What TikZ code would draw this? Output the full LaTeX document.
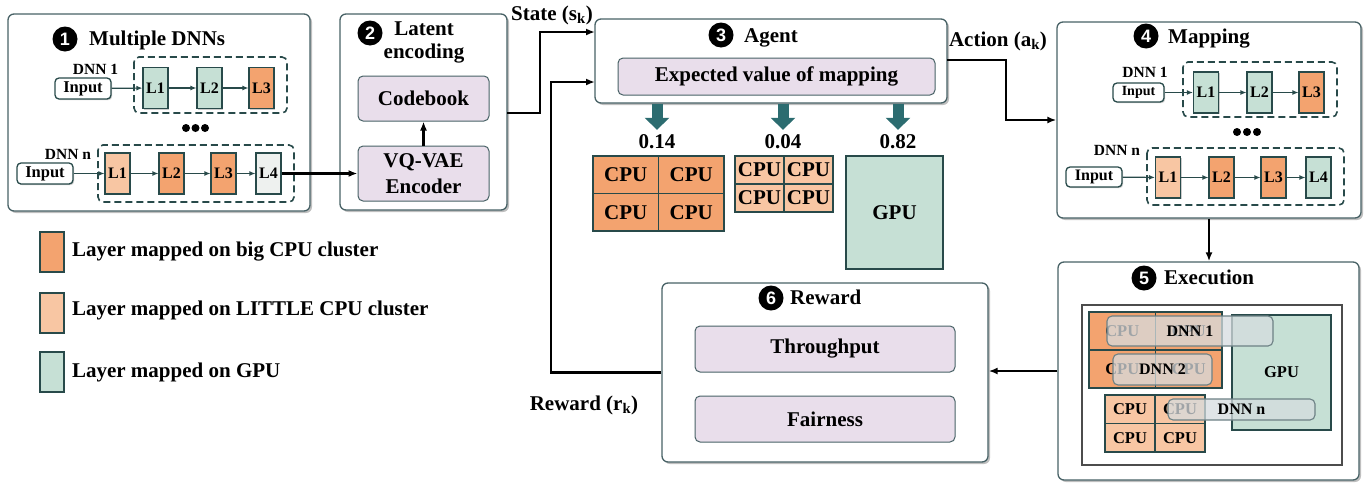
\documentclass[tikz,border=0pt]{standalone}
\usepackage{fontspec}
\setmainfont{Liberation Serif}
\setsansfont{Liberation Sans}
\usepackage{tikz}
\usetikzlibrary{arrows.meta,shadows,positioning}
\definecolor{bigcpu}{RGB}{243,163,111}
\definecolor{littlecpu}{RGB}{248,198,163}
\definecolor{gpucol}{RGB}{198,224,213}
\definecolor{idle}{RGB}{238,241,239}
\definecolor{lilac}{RGB}{233,222,235}
\definecolor{edge}{RGB}{40,74,74}
\definecolor{frame}{RGB}{72,98,102}
\definecolor{tealarrow}{RGB}{44,108,112}
\definecolor{jobgray}{RGB}{214,220,223}
\newcommand{\fsz}[1]{\fontsize{#1}{#1}\selectfont}

\begin{document}
\begin{tikzpicture}[x=1pt, y=-1pt,
  every node/.style={font=\bfseries\fsz{21}},
  panel/.style={draw=frame, fill=white, rounded corners=6pt, line width=1.3pt, inner sep=0pt,
    drop shadow={shadow xshift=2pt, shadow yshift=-2pt, opacity=0.5}},
  num/.style={circle, fill=black, text=white, inner sep=0pt, minimum size=25pt, font=\sffamily\bfseries\fsz{18}},
  title/.style={anchor=base west, inner sep=0pt},
  inner/.style={draw=frame, fill=lilac, rounded corners=5pt, line width=1pt, inner sep=0pt, align=center},
  layer/.style={draw=edge, line width=1.1pt, minimum width=25pt, minimum height=41pt, inner sep=0pt, font=\bfseries\fsz{16},
    drop shadow={shadow xshift=1.2pt, shadow yshift=-1.2pt, opacity=0.4}},
  bigL/.style={layer, fill=bigcpu},
  littleL/.style={layer, fill=littlecpu},
  gpuL/.style={layer, fill=gpucol},
  idleL/.style={layer, fill=idle},
  inbox/.style={draw=edge, fill=white, rounded corners=4pt, line width=1.3pt, minimum width=56pt, minimum height=21pt,
    inner sep=0pt, font=\bfseries\fsz{16.5}, drop shadow={shadow xshift=1.2pt, shadow yshift=-1.2pt, opacity=0.4}},
  lbl/.style={anchor=base, inner sep=0pt, font=\bfseries\fsz{15.5}},
  group/.style={draw=edge, dash pattern=on 7pt off 4pt, line width=1.6pt, rounded corners=5pt},
  link/.style={-{Latex[length=6pt,width=5pt]}, draw=edge, line width=1.2pt},
  flow/.style={-{Latex[length=9pt,width=7pt]}, line width=2.2pt, black},
  fat/.style={-{Triangle[length=12pt,width=24pt]}, line width=11pt, tealarrow},
  cell/.style={draw=edge, line width=1.1pt, inner sep=0pt, font=\bfseries\fsz{21},
    drop shadow={shadow xshift=1.2pt, shadow yshift=-1.2pt, opacity=0.4}},
  job/.style={draw=frame!80, fill=jobgray, fill opacity=0.75, text opacity=1, rounded corners=5pt, line width=1.1pt,
    inner sep=0pt, font=\bfseries\fsz{16}}]
  \useasboundingbox (0,0) rectangle (1370,485);

  % Panels
  \node[panel, minimum width=302pt, minimum height=197pt] (dnns) at (159,112.5) {};
  \node[panel, minimum width=167pt, minimum height=196pt] (latent) at (423.5,112) {};
  \node[panel, minimum width=352pt, minimum height=84pt] (agent) at (771,61) {};
  \node[panel, minimum width=304pt, minimum height=196pt] (map) at (1209,120) {};
  \node[panel, minimum width=301pt, minimum height=218pt] (exe) at (1208.5,371) {};
  \node[panel, minimum width=326pt, minimum height=179pt] (rew) at (825,372.5) {};

  % 1: multiple DNNs
  \node[num] (n1) at (65,39) {1};
  \node[title] at (89,45) {Multiple DNNs};
  \draw[group] (134,57) rectangle (287,113);
  \draw[group] (98,145) rectangle (294,202);
  \node[lbl] at (95.5,74) {DNN 1};
  \node[inbox] (ina) at (83,88.5) {Input};
  \node[gpuL] (a1) at (155.5,88) {L1};
  \node[gpuL] (a2) at (209.5,88) {L2};
  \node[bigL] (a3) at (261.5,88) {L3};
  \fill (186,128) circle (4pt) (195.5,128) circle (4pt) (205,128) circle (4pt);
  \node[lbl] at (68,159) {DNN n};
  \node[inbox] (inb) at (45,173.5) {Input};
  \node[littleL] (b1) at (117.5,173.5) {L1};
  \node[bigL] (b2) at (171.5,173.5) {L2};
  \node[bigL] (b3) at (223.5,173.5) {L3};
  \node[idleL] (b4) at (268.5,173.5) {L4};
  \draw[link] (ina) -- (a1);
  \draw[link] (a1) -- (a2);
  \draw[link] (a2) -- (a3);
  \draw[link] (inb) -- (b1);
  \draw[link] (b1) -- (b2);
  \draw[link] (b2) -- (b3);
  \draw[link] (b3) -- (b4);

  % 2: latent encoding
  \node[num] (n2) at (370,33) {2};
  \node[align=center, inner sep=0pt, font=\bfseries\fontsize{21}{23}\selectfont] at (424,42) {Latent\\encoding};
  \node[inner, minimum width=131pt, minimum height=45pt] (cb) at (423.5,98.5) {Codebook};
  \node[inner, minimum width=131pt, minimum height=55pt, font=\bfseries\fontsize{21}{26}\selectfont] (enc) at (423.5,173.5) {VQ-VAE\\Encoder};
  \draw[flow] (b4) -- (enc);
  \draw[flow] (enc) -- (cb);

  % 3: agent
  \node[num] (n3) at (721,35) {3};
  \node[title] at (744,42) {Agent};
  \node[inner, minimum width=317pt, minimum height=37pt] (ev) at (776.5,76.5) {Expected value of mapping};
  \node[inner sep=0pt, anchor=base, font=\bfseries\fsz{21}] (v1) at (657,148) {0.14};
  \node[inner sep=0pt, anchor=base, font=\bfseries\fsz{21}] (v2) at (783,148) {0.04};
  \node[inner sep=0pt, anchor=base, font=\bfseries\fsz{21}] (v3) at (898,148) {0.82};
  \draw[fat] (v1 |- agent.south) -- ([yshift=4pt]v1.north);
  \draw[fat] (v2 |- agent.south) -- ([yshift=4pt]v2.north);
  \draw[fat] (v3 |- agent.south) -- ([yshift=4pt]v3.north);
  % big cluster, LITTLE cluster, GPU
  \node[cell, fill=bigcpu, minimum width=65.5pt, minimum height=37.5pt] (ab1) at (625.75,174.75) {CPU};
  \node[cell, fill=bigcpu, minimum width=65.5pt, minimum height=37.5pt] (ab2) at (691.25,174.75) {CPU};
  \node[cell, fill=bigcpu, minimum width=65.5pt, minimum height=37.5pt] (ab3) at (625.75,212.25) {CPU};
  \node[cell, fill=bigcpu, minimum width=65.5pt, minimum height=37.5pt] (ab4) at (691.25,212.25) {CPU};
  \node[cell, fill=littlecpu, minimum width=49pt, minimum height=28pt] (al1) at (759.5,170) {CPU};
  \node[cell, fill=littlecpu, minimum width=49pt, minimum height=28pt] (al2) at (808.5,170) {CPU};
  \node[cell, fill=littlecpu, minimum width=49pt, minimum height=28pt] (al3) at (759.5,198) {CPU};
  \node[cell, fill=littlecpu, minimum width=49pt, minimum height=28pt] (al4) at (808.5,198) {CPU};
  \node[cell, fill=gpucol, minimum width=97pt, minimum height=113pt] (ag) at (894.5,212.5) {GPU};

  % 4: mapping
  \node[num] (n4) at (1146,36) {4};
  \node[title] at (1168,43) {Mapping};
  \draw[group] (1183,62) rectangle (1337,117);
  \draw[group] (1147,148) rectangle (1344,205);
  \node[lbl] at (1145,77) {DNN 1};
  \node[inbox, minimum width=51pt, minimum height=19pt, font=\bfseries\fsz{14}] (inc) at (1138.5,92.5) {Input};
  \node[gpuL] (c1) at (1206,92.5) {L1};
  \node[gpuL] (c2) at (1259.5,92.5) {L2};
  \node[bigL] (c3) at (1311.5,92.5) {L3};
  \fill (1237,132) circle (4pt) (1247,132) circle (4pt) (1257,132) circle (4pt);
  \node[lbl] at (1117,155) {DNN n};
  \node[inbox, minimum height=20pt, font=\bfseries\fsz{16}] (ind) at (1094,177) {Input};
  \node[littleL] (d1) at (1168,177.5) {L1};
  \node[bigL] (d2) at (1221.5,177.5) {L2};
  \node[bigL] (d3) at (1273.5,177.5) {L3};
  \node[gpuL] (d4) at (1318.5,177.5) {L4};
  \draw[link] (inc) -- (c1);
  \draw[link] (c1) -- (c2);
  \draw[link] (c2) -- (c3);
  \draw[link] (ind) -- (d1);
  \draw[link] (d1) -- (d2);
  \draw[link] (d2) -- (d3);
  \draw[link] (d3) -- (d4);

  % 5: execution
  \node[num] (n5) at (1144,278) {5};
  \node[title] at (1164,284) {Execution};
  \node[draw=black!70, line width=1.1pt, fill=white, inner sep=0pt, minimum width=260pt, minimum height=160pt] (board) at (1212,385) {};
  \node[cell, fill=gpucol, minimum width=99pt, minimum height=115pt, font=\bfseries\fsz{16.5}] (eg) at (1281.5,372.5) {GPU};
  \node[cell, fill=bigcpu, minimum width=66.5pt, minimum height=38pt, font=\bfseries\fsz{16.5}] (eb1) at (1122.25,331) {CPU};
  \node[cell, fill=bigcpu, minimum width=66.5pt, minimum height=38pt, font=\bfseries\fsz{16.5}] (eb2) at (1188.75,331) {CPU};
  \node[cell, fill=bigcpu, minimum width=66.5pt, minimum height=38pt, font=\bfseries\fsz{16.5}] (eb3) at (1122.25,369) {CPU};
  \node[cell, fill=bigcpu, minimum width=66.5pt, minimum height=38pt, font=\bfseries\fsz{16.5}] (eb4) at (1188.75,369) {CPU};
  \node[cell, fill=littlecpu, minimum width=50pt, minimum height=28.5pt, font=\bfseries\fsz{16.5}] (el1) at (1130,409.25) {CPU};
  \node[cell, fill=littlecpu, minimum width=50pt, minimum height=28.5pt, font=\bfseries\fsz{16.5}] (el2) at (1180,409.25) {CPU};
  \node[cell, fill=littlecpu, minimum width=50pt, minimum height=28.5pt, font=\bfseries\fsz{16.5}] (el3) at (1130,437.75) {CPU};
  \node[cell, fill=littlecpu, minimum width=50pt, minimum height=28.5pt, font=\bfseries\fsz{16.5}] (el4) at (1180,437.75) {CPU};
  % running DNNs on top of the clusters
  \node[job, minimum width=166pt, minimum height=30pt] (j1) at (1190,331) {DNN 1};
  \node[job, minimum width=99pt, minimum height=31pt] (j2) at (1162.5,369.5) {DNN 2};
  \node[job, minimum width=147pt, minimum height=21pt] (jn) at (1241.5,409.5) {DNN n};

  % 6: reward
  \node[num] (n6) at (771,298) {6};
  \node[title] at (790,304) {Reward};
  \node[inner, minimum width=260pt, minimum height=46pt] (thr) at (825,349) {Throughput};
  \node[inner, minimum width=260pt, minimum height=46pt] (fair) at (825,419) {Fairness};

  % RL loop
  \coordinate (stateOut) at (507,113);
  \coordinate (stateIn) at (595,32);
  \coordinate (rewIn) at (595,82);
  \coordinate (actOut) at (947,60);
  \draw[flow] (stateOut) -- (540,113) |- (stateIn);
  \draw[flow] (rew.west) -- (551,372.5) |- (rewIn);
  \draw[flow] (actOut) -- (1006,60) |- (map.west);
  \draw[flow] (map.south) -- (map.south |- exe.north);
  \draw[flow] (exe.west) -- (exe.west -| rew.east);
  \node[anchor=base, inner sep=0pt] at (552,20) {State (s\textsubscript{k})};
  \node[anchor=base, inner sep=0pt] at (998,46) {Action (a\textsubscript{k})};
  \node[anchor=base, inner sep=0pt] at (584,410) {Reward (r\textsubscript{k})};

  % Legend
  \node[bigL, minimum width=24pt, minimum height=40pt] (k1) at (52,252) {};
  \node[littleL, minimum width=24pt, minimum height=40pt] (k2) at (52,313) {};
  \node[gpuL, minimum width=24pt, minimum height=40pt] (k3) at (52,372) {};
  \node[right=4pt of k1] {Layer mapped on big CPU cluster};
  \node[right=4pt of k2, yshift=3pt] {Layer mapped on LITTLE CPU cluster};
  \node[right=4pt of k3] {Layer mapped on GPU};
\end{tikzpicture}
\end{document}
